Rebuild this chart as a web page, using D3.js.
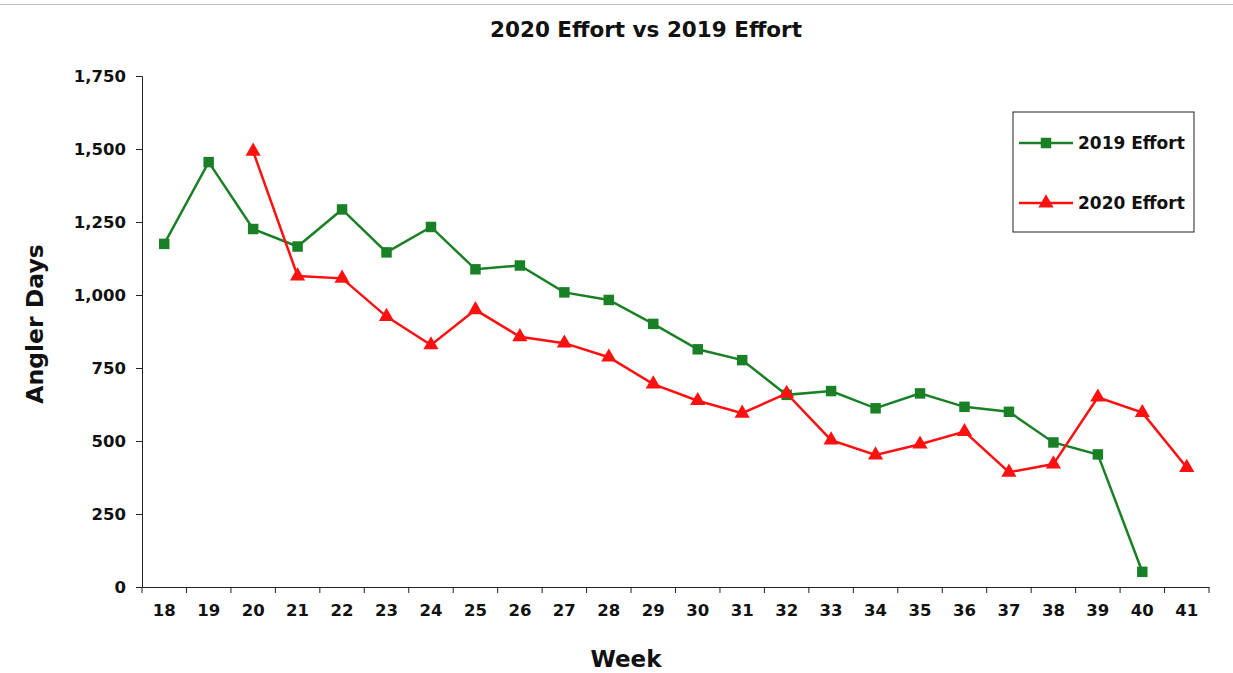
<!DOCTYPE html>
<html>
<head>
<meta charset="utf-8">
<script src="https://cdn.jsdelivr.net/npm/d3@7"></script>
<style>
  body { margin: 0; background: #fff; }
  text { font-family: "DejaVu Sans", sans-serif; font-weight: bold; fill: #111; }
</style>
</head>
<body>
<div id="chart"></div>
<script>
// Weeks on the x axis
const weeks = [18, 19, 20, 21, 22, 23, 24, 25, 26, 27, 28, 29, 30, 31, 32, 33, 34, 35, 36, 37, 38, 39, 40, 41];

// Angler days per week (null = no value that week)
const effort2019 = [1175, 1455, 1226, 1166, 1293, 1146, 1233, 1088, 1101, 1009, 983, 901, 814, 777, 658, 671, 612, 663, 617, 600, 495, 454, 52, null];
const effort2020 = [null, null, 1492, 1065, 1057, 926, 829, 949, 857, 835, 787, 695, 638, 595, 663, 503, 452, 489, 532, 393, 421, 650, 597, 409];

const yTicks = [0, 250, 500, 750, 1000, 1250, 1500, 1750];

const W = 1233, H = 673;
const margin = { top: 76, right: 24, bottom: 86, left: 142 },
  width = W - margin.left - margin.right,
  height = H - margin.top - margin.bottom;

const svg = d3.select("#chart").append("svg")
  .attr("width", W)
  .attr("height", H);

// thin frame line at the top of the picture
svg.append("line")
  .attr("x1", 0).attr("x2", W)
  .attr("y1", 4.5).attr("y2", 4.5)
  .attr("stroke", "#bdbdbd")
  .attr("stroke-width", 1);

const g = svg.append("g")
  .attr("transform", `translate(${margin.left},${margin.top})`);

const x = d3.scaleBand().domain(weeks).range([0, width]).padding(0);
const y = d3.scaleLinear().domain([0, 1750]).range([height, 0]);

// Y axis
const yAxis = g.append("g")
  .call(d3.axisLeft(y).tickValues(yTicks).tickSize(6).tickPadding(10).tickFormat(d3.format(",")));
yAxis.select(".domain").attr("stroke", "#222");
yAxis.selectAll(".tick line").attr("stroke", "#222");
yAxis.selectAll("text").attr("font-size", 16.5).style("font-family", "DejaVu Sans, sans-serif").attr("font-weight", "bold").attr("fill", "#111");

// X axis: labels centred in bands, tick marks on band boundaries
const xAxis = g.append("g")
  .attr("transform", `translate(0,${height})`)
  .call(d3.axisBottom(x).tickSize(0).tickPadding(17));
xAxis.select(".domain").attr("stroke", "#222");
xAxis.selectAll("text").attr("font-size", 16.5).style("font-family", "DejaVu Sans, sans-serif").attr("font-weight", "bold").attr("fill", "#111");

const bounds = weeks.map((w) => x(w)).concat([width]);
xAxis.selectAll(".bound")
  .data(bounds)
  .enter().append("line")
  .attr("class", "bound")
  .attr("x1", (d) => d).attr("x2", (d) => d)
  .attr("y1", 0).attr("y2", 6)
  .attr("stroke", "#222");

// Series
const series = [
  { name: "2019 Effort", values: effort2019, color: "#1a8025", symbol: d3.symbolSquare, size: 110 },
  { name: "2020 Effort", values: effort2020, color: "#ff1010", symbol: d3.symbolTriangle, size: 100 }
];

const cx = (i) => x(weeks[i]) + x.bandwidth() / 2;

series.forEach((s) => {
  const pts = s.values.map((v, i) => ({ i, v })).filter((d) => d.v != null);
  const line = d3.line().x((d) => cx(d.i)).y((d) => y(d.v));
  g.append("path")
    .datum(pts)
    .attr("fill", "none")
    .attr("stroke", s.color)
    .attr("stroke-width", 2.5)
    .attr("d", line);
  g.selectAll(null)
    .data(pts)
    .enter().append("path")
    .attr("d", d3.symbol().type(s.symbol).size(s.size))
    .attr("transform", (d) => `translate(${cx(d.i)},${y(d.v)})`)
    .attr("fill", s.color);
});

// Title
svg.append("text")
  .attr("x", 646).attr("y", 37)
  .attr("text-anchor", "middle")
  .attr("font-size", 21.5)
  .text("2020 Effort vs 2019 Effort");

// Axis titles
svg.append("text")
  .attr("x", 626).attr("y", 667)
  .attr("text-anchor", "middle")
  .attr("font-size", 23)
  .text("Week");

svg.append("text")
  .attr("transform", "translate(43,324) rotate(-90)")
  .attr("text-anchor", "middle")
  .attr("font-size", 23.5)
  .text("Angler Days");

// Legend
const legend = svg.append("g").attr("transform", "translate(1013,112)");
legend.append("rect")
  .attr("width", 181).attr("height", 120)
  .attr("fill", "#fff")
  .attr("stroke", "#222")
  .attr("stroke-width", 1);

series.forEach((s, k) => {
  const ly = 31 + k * 60;
  legend.append("line")
    .attr("x1", 6).attr("x2", 60)
    .attr("y1", ly).attr("y2", ly)
    .attr("stroke", s.color)
    .attr("stroke-width", 2.5);
  legend.append("path")
    .attr("d", d3.symbol().type(s.symbol).size(s.size)())
    .attr("transform", `translate(33,${ly})`)
    .attr("fill", s.color);
  legend.append("text")
    .attr("x", 65).attr("y", ly + 6)
    .attr("font-size", 17)
    .text(s.name);
});
</script>
</body>
</html>
